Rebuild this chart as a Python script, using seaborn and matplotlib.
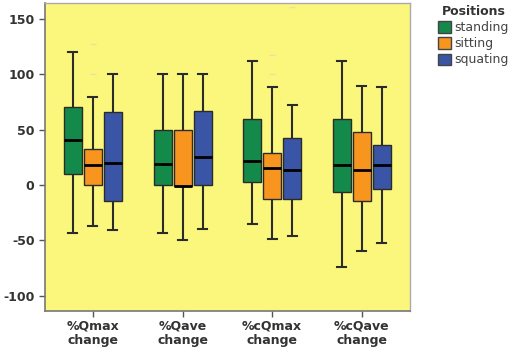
import numpy as np
import pandas as pd
import matplotlib
matplotlib.use("Agg")
import matplotlib.pyplot as plt
import seaborn as sns

categories = ["%Qmax\nchange", "%Qave\nchange", "%cQmax\nchange", "%cQave\nchange"]
positions = ["standing", "sitting", "squating"]

standing_lo = [-43, -43, -35, -74]
standing_q1 = [10, 0, 3, -6]
standing_med = [41, 19, 22, 18]
standing_q3 = [71, 50, 60, 60]
standing_hi = [120, 100, 112, 112]
standing_out = [[], [], [], []]

sitting_lo = [-37, -50, -49, -60]
sitting_q1 = [0, -1, -13, -14]
sitting_med = [18, -1, 15, 14]
sitting_q3 = [33, 50, 29, 48]
sitting_hi = [80, 100, 89, 90]
sitting_out = [[100, 128], [], [100, 118], []]

squating_lo = [-41, -40, -46, -52]
squating_q1 = [-14, 0, -13, -4]
squating_med = [20, 25, 14, 18]
squating_q3 = [66, 67, 43, 36]
squating_hi = [100, 100, 72, 89]
squating_out = [[], [], [161], []]

yticks = [-100, -50, 0, 50, 100, 150]

series = {
    "standing": (standing_lo, standing_q1, standing_med, standing_q3, standing_hi, standing_out),
    "sitting": (sitting_lo, sitting_q1, sitting_med, sitting_q3, sitting_hi, sitting_out),
    "squating": (squating_lo, squating_q1, squating_med, squating_q3, squating_hi, squating_out),
}

rows = []
for pos in positions:
    lo, q1, med, q3, hi, out = series[pos]
    for i, cat in enumerate(categories):
        k = len(out[i])
        m = k + 1
        vals = [lo[i]] + [q1[i]] * m + [med[i]] * m + [q3[i]] * m + [hi[i]] + list(out[i])
        for v in vals:
            rows.append({"cat": cat, "Positions": pos, "value": v})
df = pd.DataFrame(rows)

palette = {"standing": "#13894a", "sitting": "#f7951f", "squating": "#3a55a6"}

fig = plt.figure(figsize=(5.13, 3.5), dpi=100)
ax = fig.add_axes([0.0877, 0.111, 0.711, 0.880])
ax.set_facecolor("#faf77c")

sns.boxplot(data=df, x="cat", y="value", hue="Positions", order=categories,
            hue_order=positions, palette=palette, saturation=1, width=0.67, gap=0.1,
            whis=1.5, linecolor="#2b2b2b", linewidth=1.0, ax=ax,
            medianprops=dict(color="black", linewidth=2.0),
            whiskerprops=dict(color="#2b2b2b", linewidth=1.5),
            capprops=dict(color="#2b2b2b", linewidth=1.5),
            flierprops=dict(marker="_", markeredgecolor="#f8d9a0",
                            markerfacecolor="none", markersize=4, markeredgewidth=1))

ax.set_xlim(-0.535, 3.535)
ax.set_ylim(-114, 164.5)
ax.set_yticks(yticks)
ax.set_yticklabels([str(t) for t in yticks])
ax.set_xlabel("")
ax.set_ylabel("")
for lab in ax.get_xticklabels() + ax.get_yticklabels():
    lab.set_fontweight("bold")
    lab.set_fontsize(9)
    lab.set_color("#333333")
ax.tick_params(axis="both", direction="out", length=4, width=1, color="#555555")
ax.tick_params(axis="x", pad=2)
for side in ["left", "bottom"]:
    ax.spines[side].set_color("#777777")
    ax.spines[side].set_linewidth(1.2)
for side in ["top", "right"]:
    ax.spines[side].set_color("#aaaaaa")
    ax.spines[side].set_linewidth(1.0)
ax.grid(False)

leg = ax.legend(title="Positions", loc="upper left", bbox_to_anchor=(1.065, 1.01),
                frameon=False, fontsize=9, title_fontsize=9,
                handlelength=1.0, handleheight=1.0, handletextpad=0.25,
                labelspacing=0.25, borderaxespad=0)
leg.get_title().set_fontweight("bold")
leg.get_title().set_color("#333333")
for t in leg.get_texts():
    t.set_color("#444444")
for h in leg.legend_handles:
    h.set_edgecolor("#444444")
    h.set_linewidth(1.0)

fig.savefig("out.png", dpi=100)
